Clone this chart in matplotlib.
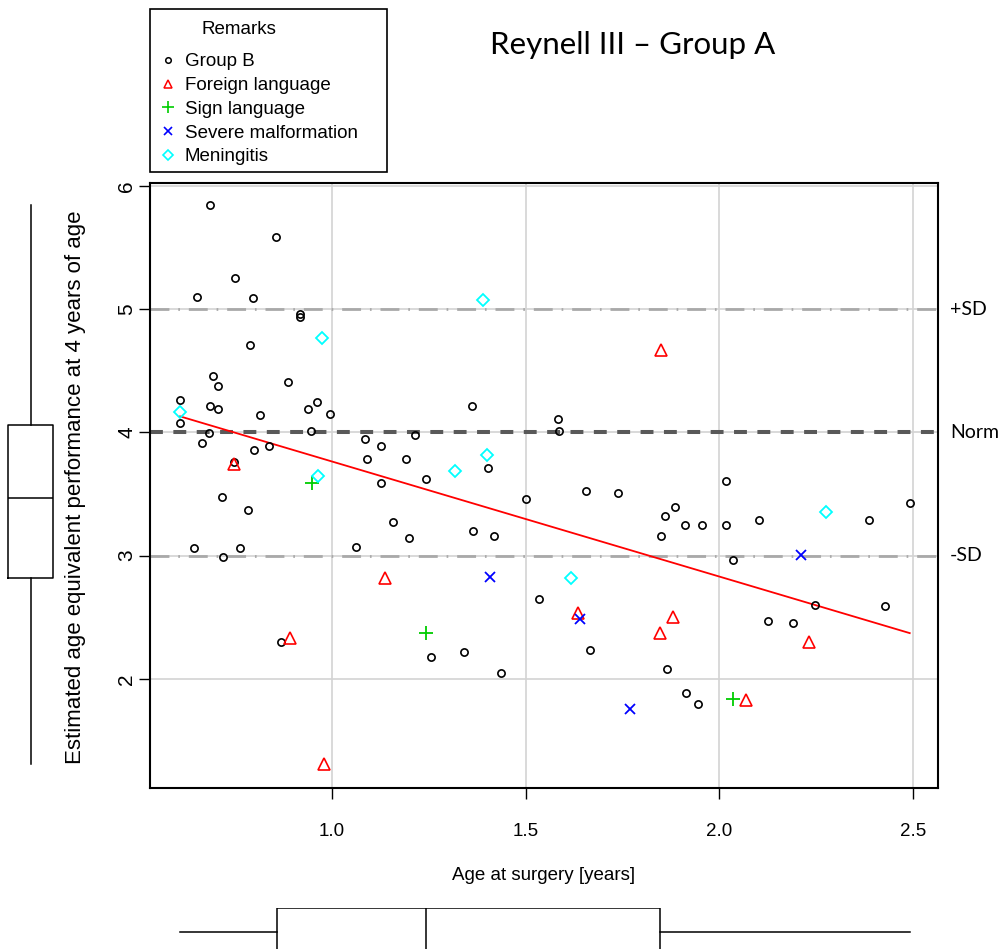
import numpy as np
import matplotlib
matplotlib.use("Agg")
import matplotlib.pyplot as plt
from matplotlib.lines import Line2D
from matplotlib.patches import Rectangle

plt.rcParams['font.family'] = ['Liberation Sans', 'DejaVu Sans']

# Group B (open circles)
group_b_x = [0.686, 0.855, 0.750, 0.652, 0.795, 0.917, 0.917, 0.788, 0.694, 0.886,
             0.705, 0.608, 0.686, 0.705, 0.815, 0.939, 0.961, 0.996, 0.608, 0.682,
             0.947, 0.664, 0.799, 0.837, 0.746, 0.717, 0.784, 0.645, 0.762, 0.720,
             0.868, 1.361, 1.085, 1.127, 1.214, 1.090, 1.192, 1.402, 1.127, 1.243,
             1.501, 1.157, 1.199, 1.365, 1.418, 1.063, 1.255, 1.342, 1.436, 1.534,
             1.584, 1.587, 1.655, 1.738, 2.017, 1.859, 1.885, 1.911, 1.956, 2.017,
             1.851, 1.666, 1.866, 1.915, 1.946, 2.104, 2.387, 2.492, 2.036, 2.247,
             2.428, 2.127, 2.190]
group_b_y = [5.848, 5.588, 5.254, 5.100, 5.089, 4.959, 4.937, 4.710, 4.461, 4.412,
             4.377, 4.260, 4.211, 4.187, 4.141, 4.187, 4.246, 4.152, 4.079, 3.997,
             4.011, 3.916, 3.856, 3.891, 3.760, 3.477, 3.371, 3.063, 3.063, 2.992,
             2.301, 4.211, 3.948, 3.891, 3.976, 3.783, 3.783, 3.713, 3.593, 3.618,
             3.463, 3.274, 3.146, 3.203, 3.157, 3.073, 2.181, 2.220, 2.051, 2.648,
             4.106, 4.011, 3.523, 3.512, 3.607, 3.323, 3.393, 3.252, 3.252, 3.252,
             3.157, 2.230, 2.076, 1.886, 1.794, 3.285, 3.285, 3.428, 2.967, 2.599,
             2.588, 2.466, 2.455]

foreign_x = [0.746, 0.893, 0.979, 1.137, 1.849, 1.636, 1.881, 1.846, 2.232, 2.068]
foreign_y = [3.745, 2.330, 1.307, 2.821, 4.667, 2.531, 2.504, 2.371, 2.301, 1.827]

sign_x = [0.949, 1.243, 2.036]
sign_y = [3.591, 2.368, 1.835]

malform_x = [1.408, 1.641, 1.769, 2.211]
malform_y = [2.829, 2.485, 1.756, 3.006]

mening_x = [0.608, 0.974, 1.389, 0.964, 1.400, 1.317, 1.618, 2.276]
mening_y = [4.165, 4.767, 5.071, 3.645, 3.816, 3.683, 2.819, 3.352]

# regression line end points
fit_x = [0.608, 2.492]
fit_y = [4.130, 2.371]

ref_levels = [5, 4, 3]
ref_labels = ["+SD", "Norm", "-SD"]

x_ticks = [1.0, 1.5, 2.0, 2.5]
y_ticks = [2, 3, 4, 5, 6]

all_x = group_b_x + foreign_x + sign_x + malform_x + mening_x
all_y = group_b_y + foreign_y + sign_y + malform_y + mening_y

W, H = 1005, 949
fig = plt.figure(figsize=(W / 100, H / 100), dpi=100)

def px_rect(l, t, r, b):
    return [l / W, 1 - b / H, (r - l) / W, (b - t) / H]

ax = fig.add_axes(px_rect(149.5, 183, 938, 788))
ax.set_xlim(0.529, 2.565)
ax.set_ylim(1.114, 6.024)

for xv in x_ticks:
    ax.axvline(xv, color="#d3d3d3", lw=1.2, zorder=0)
for yv in y_ticks:
    ax.axhline(yv, color="#d3d3d3", lw=1.2, zorder=0)

ax.axhline(5, color="#a9a9a9", lw=2, dashes=(6.8, 3.2, 0.6, 3.2), zorder=1)
ax.axhline(3, color="#a9a9a9", lw=2, dashes=(6.8, 3.2, 0.6, 3.2), zorder=1)
ax.axhline(4, color="#595959", lw=2.9, dashes=(3.2, 2.6), zorder=1)

ax.plot(fit_x, fit_y, color="red", lw=1.3, zorder=2)

ax.plot(group_b_x, group_b_y, "o", ms=5.2, mfc="none", mec="black", mew=1.2, zorder=3)
ax.plot(foreign_x, foreign_y, "^", ms=8, mfc="none", mec="red", mew=1.2, zorder=3)
ax.plot(sign_x, sign_y, "+", ms=10, mec="#00cd00", mew=1.3, zorder=3)
ax.plot(malform_x, malform_y, "x", ms=7, mec="blue", mew=1.3, zorder=3)
ax.plot(mening_x, mening_y, "D", ms=6.5, mfc="none", mec="cyan", mew=1.3, zorder=3)

ax.set_xticks(x_ticks)
ax.set_xticklabels([f"{v:.1f}" for v in x_ticks])
ax.set_yticks(y_ticks)
ax.set_yticklabels([str(v) for v in y_ticks], rotation=90, va="center")
ax.tick_params(axis="x", length=8, width=1, labelsize=13.5, pad=17)
ax.tick_params(axis="y", length=8, width=1, labelsize=15, pad=1.5)
for s in ax.spines.values():
    s.set_linewidth(1.5)

fig.text(544 / W, 1 - 875 / H, "Age at surgery [years]", fontsize=13.5,
         ha="center", va="center")
fig.text(76 / W, 1 - 487 / H, "Estimated age equivalent performance at 4 years of age",
         fontsize=16, rotation=90, ha="center", va="center")

for lv, lb in zip(ref_levels, ref_labels):
    ax.text(1.015, lv, lb, transform=ax.get_yaxis_transform(), fontsize=14,
            family="Lato", va="center", ha="left")

fig.text(633 / W, 1 - 45 / H, "Reynell III \u2013 Group A", fontsize=22.5,
         family="Lato", ha="center", va="center")

# marginal boxplots
axl = fig.add_axes(px_rect(0, 183, 61, 788), sharey=ax)
axl.boxplot(all_y, positions=[0.5], widths=0.74, showcaps=False, showfliers=False,
            boxprops=dict(lw=1.1), whiskerprops=dict(lw=1.1),
            medianprops=dict(color="black", lw=1.1))
axl.set_xlim(0, 1)
axl.axis("off")

axb = fig.add_axes(px_rect(149.5, 908, 938, 956), sharex=ax)
axb.boxplot(all_x, positions=[0.5], widths=1.0, orientation="horizontal",
            showcaps=False, showfliers=False,
            boxprops=dict(lw=1.1), whiskerprops=dict(lw=1.1),
            medianprops=dict(color="black", lw=1.1))
axb.set_ylim(0, 1)
axb.axis("off")

# legend
fig.patches.append(Rectangle((150 / W, 1 - 172 / H), 237 / W, 163 / H,
                             transform=fig.transFigure, fill=False, lw=1.2,
                             edgecolor="black"))
fig.text(239 / W, 1 - 30 / H, "Remarks", fontsize=13.5, ha="center", va="center")

handles = [
    Line2D([], [], ls="none", marker="o", ms=4, mfc="none", mec="black", mew=1.1),
    Line2D([], [], ls="none", marker="^", ms=6, mfc="none", mec="red", mew=1.1),
    Line2D([], [], ls="none", marker="+", ms=8, mec="#00cd00", mew=1.2),
    Line2D([], [], ls="none", marker="x", ms=5.5, mec="blue", mew=1.2),
    Line2D([], [], ls="none", marker="D", ms=5, mfc="none", mec="cyan", mew=1.2),
]
labels = ["Group B", "Foreign language", "Sign language", "Severe malformation", "Meningitis"]
fig.legend(handles, labels, loc="upper left", frameon=False,
           bbox_to_anchor=(150 / W, 1 - 44 / H), borderaxespad=0,
           fontsize=13.5, handlelength=0.9, handletextpad=0.46,
           labelspacing=0.35, borderpad=0.5)

fig.savefig("out.png", dpi=100)
